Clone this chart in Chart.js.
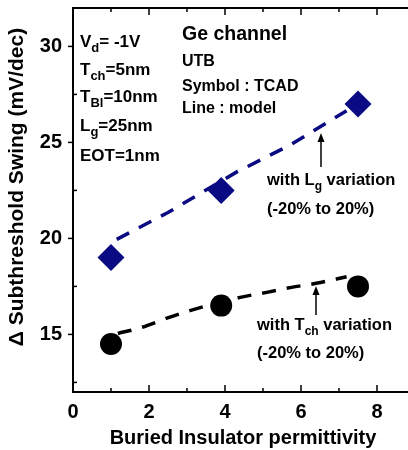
<!DOCTYPE html>
<html>
<head>
<meta charset="utf-8">
<script src="https://cdn.jsdelivr.net/npm/chart.js@4.4.1/dist/chart.umd.min.js"></script>
<style>
    html, body { margin: 0; padding: 0; background: #fff; overflow: hidden; }
    #wrap { width: 415px; height: 450px; }
</style>
</head>
<body>
<div id="wrap"><canvas id="myChart" width="415" height="450"></canvas></div>
<script>
// TCAD symbols
const lgEps = [1, 3.9, 7.5];
const lgSwing = [19, 22.5, 27];
const tchEps = [1, 3.9, 7.5];
const tchSwing = [14.5, 16.5, 17.5];

// model lines
const lgModelEps = [1.15, 2.5, 4.3, 5.7, 7.2];
const lgModelSwing = [19.95, 21.35, 23.45, 24.85, 26.65];
const tchModelEps = [1.18, 1.8, 2.45, 3.1, 4.4, 5.1, 5.75, 6.4, 7.2];
const tchModelSwing = [15.05, 15.36, 15.83, 16.25, 16.93, 17.19, 17.45, 17.66, 18.0];

const xTickLabels = [0, 2, 4, 6, 8];
const yTickLabels = [15, 20, 25, 30];

const FONT = '"Liberation Sans", Arial, sans-serif';
const navy = '#0a0a82';

function pts(xs, ys) {
    return xs.map((x, i) => ({ x: x, y: ys[i] }));
}

// draws text with an optional subscript part: [[text, sub], ...]
function richText(ctx, parts, x, y, size) {
    let cx = x;
    parts.forEach(p => {
        ctx.font = 'bold ' + size + 'px ' + FONT;
        ctx.fillText(p[0], cx, y);
        cx += ctx.measureText(p[0]).width;
        if (p[1]) {
            ctx.font = 'bold ' + Math.round(size * 0.75) + 'px ' + FONT;
            ctx.fillText(p[1], cx, y + 5);
            cx += ctx.measureText(p[1]).width;
        }
    });
}

function arrow(ctx, x, yTip, yEnd) {
    ctx.beginPath();
    ctx.moveTo(x, yEnd);
    ctx.lineTo(x, yTip + 6);
    ctx.lineWidth = 1.5;
    ctx.stroke();
    ctx.beginPath();
    ctx.moveTo(x, yTip);
    ctx.lineTo(x - 3.5, yTip + 9);
    ctx.lineTo(x + 3.5, yTip + 9);
    ctx.closePath();
    ctx.fill();
}

function noPad(s) {
    s.paddingTop = 0;
    s.paddingBottom = 0;
    s.paddingLeft = 0;
    s.paddingRight = 0;
}

const decor = {
    id: 'decor',
    afterDraw(chart) {
        const ctx = chart.ctx;
        const a = chart.chartArea;
        const xs = chart.scales.x;
        const ys = chart.scales.y;
        ctx.save();
        ctx.strokeStyle = '#000';
        ctx.fillStyle = '#000';

        // frame
        ctx.lineWidth = 2;
        ctx.strokeRect(a.left, a.top, a.right - a.left, a.bottom - a.top);

        // x ticks, inward, bottom and top
        ctx.lineWidth = 1.5;
        for (let v = 1; v <= 8; v++) {
            const px = xs.getPixelForValue(v);
            const len = v % 2 === 0 ? 7 : 4;
            ctx.beginPath();
            ctx.moveTo(px, a.bottom);
            ctx.lineTo(px, a.bottom - len);
            ctx.moveTo(px, a.top);
            ctx.lineTo(px, a.top + len);
            ctx.stroke();
        }
        // y ticks
        for (let v = 12.5; v <= 32; v += 2.5) {
            const py = ys.getPixelForValue(v);
            ctx.beginPath();
            if (v % 5 === 0) {
                ctx.moveTo(a.left - 5, py);
                ctx.lineTo(a.left, py);
            } else {
                ctx.moveTo(a.left, py);
                ctx.lineTo(a.left + 4, py);
            }
            ctx.stroke();
        }

        // y axis title
        ctx.save();
        ctx.translate(17, 187);
        ctx.rotate(-Math.PI / 2);
        ctx.textAlign = 'center';
        ctx.textBaseline = 'middle';
        ctx.font = 'bold 21px ' + FONT;
        ctx.fillText('\u0394 Subthreshold Swing (mV/dec)', 0, 0);
        ctx.restore();

        // x axis title
        ctx.textAlign = 'center';
        ctx.textBaseline = 'alphabetic';
        ctx.font = 'bold 20px ' + FONT;
        ctx.fillText('Buried Insulator permittivity', 243, 444);

        // annotations
        ctx.textAlign = 'left';
        richText(ctx, [['V', 'd'], ['= -1V']], 80, 47, 17);
        richText(ctx, [['T', 'ch'], ['=5nm']], 80, 75, 17);
        richText(ctx, [['T', 'Bl'], ['=10nm']], 80, 102, 17);
        richText(ctx, [['L', 'g'], ['=25nm']], 80, 131, 17);
        richText(ctx, [['EOT=1nm']], 80, 161, 17);

        richText(ctx, [['Ge channel']], 182, 40, 19.5);
        richText(ctx, [['UTB']], 182, 66, 16);
        richText(ctx, [['Symbol : TCAD']], 182, 91, 16);
        richText(ctx, [['Line : model']], 182, 113, 16);

        richText(ctx, [['with L', 'g'], [' variation']], 267, 185, 16.5);
        richText(ctx, [['(-20% to 20%)']], 267, 214, 16.5);
        richText(ctx, [['with T', 'ch'], [' variation']], 257, 330, 16.5);
        richText(ctx, [['(-20% to 20%)']], 257, 358, 16.5);

        arrow(ctx, 321, 133, 167);
        arrow(ctx, 316, 286, 315);
        ctx.restore();
    }
};

const ctx = document.getElementById('myChart').getContext('2d');
new Chart(ctx, {
    type: 'scatter',
    data: {
        datasets: [
            {
                label: 'Lg TCAD',
                data: pts(lgEps, lgSwing),
                pointStyle: 'rectRot',
                pointRadius: 13.5,
                pointBackgroundColor: navy,
                pointBorderColor: navy,
                pointBorderWidth: 0
            },
            {
                label: 'Tch TCAD',
                data: pts(tchEps, tchSwing),
                pointStyle: 'circle',
                pointRadius: 11,
                pointBackgroundColor: '#000',
                pointBorderColor: '#000',
                pointBorderWidth: 0
            },
            {
                label: 'Lg model',
                data: pts(lgModelEps, lgModelSwing),
                showLine: true,
                pointRadius: 0,
                borderColor: navy,
                borderWidth: 3.5,
                borderDash: [14, 11],
                tension: 0
            },
            {
                label: 'Tch model',
                data: pts(tchModelEps, tchModelSwing),
                showLine: true,
                pointRadius: 0,
                borderColor: '#000',
                borderWidth: 3.5,
                borderDash: [14, 11],
                cubicInterpolationMode: 'monotone'
            }
        ]
    },
    options: {
        responsive: false,
        animation: false,
        layout: {
            autoPadding: false,
            padding: { top: 8, right: 0, left: 0, bottom: 0 }
        },
        plugins: {
            legend: { display: false },
            tooltip: { enabled: false }
        },
        scales: {
            x: {
                type: 'linear',
                min: 0,
                max: 9,
                afterBuildTicks: s => { s.ticks = xTickLabels.map(v => ({ value: v })); },
                afterFit: s => { s.height = 58; noPad(s); },
                grid: { display: false, drawTicks: false },
                border: { display: false },
                ticks: {
                    padding: 8,
                    color: '#000',
                    font: { family: FONT, size: 20, weight: 'bold' }
                }
            },
            y: {
                min: 12,
                max: 32,
                afterBuildTicks: s => { s.ticks = yTickLabels.map(v => ({ value: v })); },
                afterFit: s => { s.width = 73; noPad(s); },
                grid: { display: false, drawTicks: false },
                border: { display: false },
                ticks: {
                    padding: 11,
                    color: '#000',
                    font: { family: FONT, size: 20, weight: 'bold' }
                }
            }
        }
    },
    plugins: [decor]
});
</script>
</body>
</html>
